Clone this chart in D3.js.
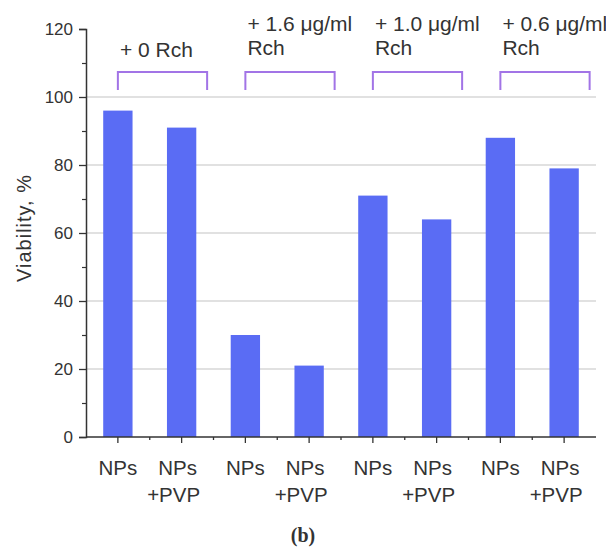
<!DOCTYPE html>
<html>
<head>
<meta charset="utf-8">
<script src="https://cdn.jsdelivr.net/npm/d3@7"></script>
<style>
  html, body { margin: 0; padding: 0; background: #fff; }
  svg { display: block; }
  text { font-family: "Liberation Sans", Arial, sans-serif; fill: #333; }
</style>
</head>
<body>
<svg id="chart" width="606" height="551"></svg>
<script>
// ---- data ----
const categories = ["NPs", "NPs+PVP", "NPs", "NPs+PVP", "NPs", "NPs+PVP", "NPs", "NPs+PVP"];
const categoryLines = [["NPs"], ["NPs", "+PVP"], ["NPs"], ["NPs", "+PVP"], ["NPs"], ["NPs", "+PVP"], ["NPs"], ["NPs", "+PVP"]];
const values = [96, 91, 30, 21, 71, 64, 88, 79];
const groupLabels = [["+ 0 Rch"], ["+ 1.6 \u03bcg/ml", "Rch"], ["+ 1.0 \u03bcg/ml", "Rch"], ["+ 0.6 \u03bcg/ml", "Rch"]];
const yTicks = [0, 20, 40, 60, 80, 100, 120];
const yMinorTicks = [10, 30, 50, 70, 90, 110];
const yLabel = "Viability, %";
const panelLabel = "(b)";

(function () {
// ---- layout ----
const svg = d3.select("#chart");
const mLeft = 86, mRight = 596, mTop = 29, mBottom = 437;
const idx = d3.range(values.length);

const x = d3.scaleBand().domain(idx).range([mLeft, mRight]).paddingInner(0.54).paddingOuter(0.27);
const y = d3.scaleLinear().domain([0, 120]).range([mBottom, mTop]);
const step = x.step();
const cx = i => x(i) + x.bandwidth() / 2;

// gridlines
svg.append("g").selectAll("line").data(yTicks.filter(d => d > 0 && d < 120)).join("line")
  .attr("x1", mLeft).attr("x2", mRight)
  .attr("y1", d => y(d)).attr("y2", d => y(d))
  .attr("stroke", "#c4c4c4").attr("stroke-width", 1.2);

// bars
svg.append("g").selectAll("rect").data(values).join("rect")
  .attr("x", (d, i) => x(i))
  .attr("width", x.bandwidth())
  .attr("y", d => y(d))
  .attr("height", d => y(0) - y(d))
  .attr("fill", "#5a6cf4");

// y axis
const yAxis = svg.append("g").attr("transform", `translate(${mLeft},0)`)
  .call(d3.axisLeft(y).tickValues(yTicks).tickSize(7).tickPadding(6).tickFormat(d3.format("d")));
yAxis.select(".domain").attr("stroke", "#333").attr("stroke-width", 1.5);
yAxis.selectAll(".tick line").attr("stroke", "#333").attr("stroke-width", 1.3);
yAxis.selectAll(".tick text").attr("font-size", 17).attr("fill", "#333")
  .style("font-family", "'Liberation Sans', Arial, sans-serif");
const yMinor = svg.append("g").attr("transform", `translate(${mLeft},0)`)
  .call(d3.axisLeft(y).tickValues(yMinorTicks).tickSize(4).tickFormat(""));
yMinor.select(".domain").remove();
yMinor.selectAll(".tick line").attr("stroke", "#333").attr("stroke-width", 1.2);

// x axis
svg.append("line").attr("x1", mLeft).attr("x2", mRight).attr("y1", mBottom).attr("y2", mBottom)
  .attr("stroke", "#333").attr("stroke-width", 1.6);
svg.append("g").selectAll("line").data(idx).join("line")
  .attr("x1", i => cx(i)).attr("x2", i => cx(i))
  .attr("y1", mBottom).attr("y2", mBottom + 6)
  .attr("stroke", "#333").attr("stroke-width", 1.3);
svg.append("g").selectAll("line").data(idx.slice(0, -1)).join("line")
  .attr("x1", i => cx(i) + step / 2).attr("x2", i => cx(i) + step / 2)
  .attr("y1", mBottom).attr("y2", mBottom + 3)
  .attr("stroke", "#333").attr("stroke-width", 1.3);

// x labels
const xl = svg.append("g").selectAll("text").data(idx).join("text")
  .attr("font-size", 20.5).attr("text-anchor", "middle");
xl.each(function(i) {
  const lines = categoryLines[i];
  const t = d3.select(this);
  lines.forEach((ln, k) => {
    const off = lines.length === 1 ? 0 : (k === 0 ? -4 : -8);
    t.append("tspan").attr("x", cx(i) + off).attr("y", 475 + k * 27).text(ln);
  });
});

// group brackets
const groups = d3.range(groupLabels.length);
const bTop = 72, bBot = 90;
svg.append("g").selectAll("path").data(groups).join("path")
  .attr("d", g => {
    const x0 = cx(2 * g), x1 = cx(2 * g) + 1.4 * step;
    return `M${x0},${bBot}V${bTop}H${x1}V${bBot}`;
  })
  .attr("fill", "none").attr("stroke", "#a274e6").attr("stroke-width", 2);

// group labels
svg.append("g").selectAll("text").data(groups).join("text")
  .attr("font-size", 21)
  .each(function(g) {
    const lines = groupLabels[g];
    const t = d3.select(this);
    if (lines.length === 1) {
      t.append("tspan").attr("x", cx(2 * g) + 2).attr("y", 57).text(lines[0]);
    } else {
      lines.forEach((ln, k) => t.append("tspan").attr("x", cx(2 * g) + 2).attr("y", 31 + k * 24).text(ln));
    }
  });

// y label
svg.append("text")
  .attr("transform", `translate(31,228) rotate(-90)`)
  .attr("text-anchor", "middle").attr("font-size", 20).attr("letter-spacing", 1)
  .text(yLabel);

// panel label
svg.append("text")
  .attr("x", 303).attr("y", 542).attr("text-anchor", "middle")
  .attr("font-size", 20).attr("font-weight", "bold")
  .style("font-family", "'Liberation Serif', 'Times New Roman', serif")
  .attr("fill", "#111")
  .text(panelLabel);
})();
</script>
</body>
</html>
